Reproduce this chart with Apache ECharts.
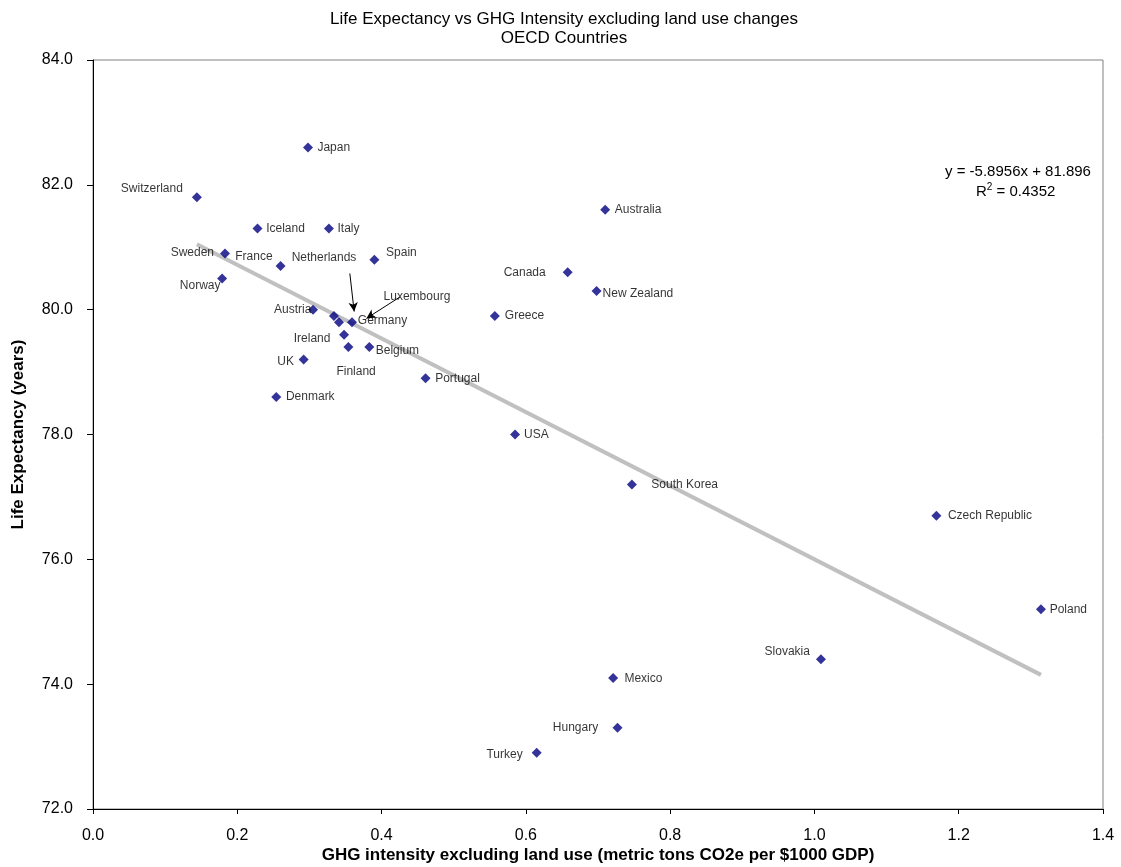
<!DOCTYPE html>
<html>
<head>
<meta charset="utf-8">
<title>Life Expectancy vs GHG Intensity</title>
<script src="https://cdn.jsdelivr.net/npm/echarts@6/dist/echarts.min.js"></script>
<style>
  html, body { margin: 0; padding: 0; background: #fff; }
  #chart { width: 1121px; height: 867px; }
</style>
</head>
<body>
<div id="chart"></div>
<script>
// OECD countries: GHG intensity (t CO2e per $1000 GDP) and life expectancy (years)
const countries = [
  'Japan', 'Switzerland', 'Iceland', 'Italy', 'Sweden', 'France', 'Spain', 'Norway',
  'Austria', 'Luxembourg', 'Netherlands', 'Germany', 'Ireland', 'Finland', 'Belgium',
  'UK', 'Portugal', 'Denmark', 'Greece', 'Australia', 'Canada', 'New Zealand', 'USA',
  'South Korea', 'Czech Republic', 'Poland', 'Slovakia', 'Mexico', 'Hungary', 'Turkey'
];
const ghgIntensity = [
  0.298, 0.144, 0.228, 0.327, 0.183, 0.260, 0.390, 0.179,
  0.305, 0.334, 0.341, 0.359, 0.348, 0.354, 0.383,
  0.292, 0.461, 0.254, 0.557, 0.710, 0.658, 0.698, 0.585,
  0.747, 1.169, 1.314, 1.009, 0.721, 0.727, 0.615
];
const lifeExpectancy = [
  82.6, 81.8, 81.3, 81.3, 80.9, 80.7, 80.8, 80.5,
  80.0, 79.9, 79.8, 79.8, 79.6, 79.4, 79.4,
  79.2, 78.9, 78.6, 79.9, 81.6, 80.6, 80.3, 78.0,
  77.2, 76.7, 75.2, 74.4, 74.1, 73.3, 72.9
];

// Linear trend fitted to the points
const trendSlope = -5.8956;
const trendIntercept = 81.896;
const trendR2 = 0.4352;

// Axis ranges and tick steps
const xMin = 0, xMax = 1.4, xStep = 0.2;
const yMin = 72, yMax = 84, yStep = 2;

// Callout arrows for crowded labels: [from, to] in data units
const arrowNetherlands = [[0.356, 80.58], [0.362, 79.97]];
const arrowLuxembourg = [[0.425, 80.20], [0.379, 79.86]];

const FONT = "'Liberation Sans', Arial, sans-serif";

// Label placement per country: [side, dx, dy]
const labelPlace = {
  'Japan': ['right', 4.4, 0],
  'Switzerland': ['left', -9, -8.6],
  'Iceland': ['right', 3.7, 0],
  'Italy': ['right', 3.6, 0],
  'Sweden': ['left', -6, -1],
  'France': ['left', -3, -9],
  'Spain': ['right', 6.7, -6.6],
  'Norway': ['left', 3.4, 7.4],
  'Austria': ['left', 3.4, 0],
  'Luxembourg': ['inside', 83, -19.4],
  'Netherlands': ['inside', -15, -64.6],
  'Germany': ['right', 0.8, -1],
  'Ireland': ['left', -8.6, 4.4],
  'Finland': ['inside', 7.7, 24.7],
  'Belgium': ['right', 1.4, 4],
  'UK': ['left', -4.7, 1.7],
  'Portugal': ['right', 4.6, 0],
  'Denmark': ['right', 4.7, 0],
  'Greece': ['right', 5, 0],
  'Australia': ['right', 4.5, 0],
  'Canada': ['left', -17, 0],
  'New Zealand': ['right', 1, 3],
  'USA': ['right', 4, 0],
  'South Korea': ['right', 14.4, 0],
  'Czech Republic': ['right', 6.6, 0],
  'Poland': ['right', 3.7, 0],
  'Slovakia': ['left', -6, -8],
  'Mexico': ['right', 6.3, 0.7],
  'Hungary': ['left', -14.3, 0],
  'Turkey': ['left', -9, 1.7]
};

const points = countries.map((name, i) => {
  const p = labelPlace[name] || ['right', 4, 0];
  return {
    name: name,
    value: [ghgIntensity[i], lifeExpectancy[i]],
    label: { position: p[0] }
  };
});

// Trend line spans the range of the observed x values
const xLo = Math.min(...ghgIntensity);
const xHi = Math.max(...ghgIntensity);
const trendData = [
  [xLo, trendSlope * xLo + trendIntercept],
  [xHi, trendSlope * xHi + trendIntercept]
];

const chart = echarts.init(document.getElementById('chart'), null, { renderer: 'canvas' });

chart.setOption({
  backgroundColor: '#ffffff',
  animation: false,
  textStyle: { fontFamily: FONT },
  title: {
    text: 'Life Expectancy vs GHG Intensity excluding land use changes\nOECD Countries',
    left: 564,
    textAlign: 'center',
    top: 10,
    padding: 0,
    textStyle: {
      fontFamily: FONT, fontSize: 17, fontWeight: 'normal', color: '#000', lineHeight: 19
    }
  },
  grid: {
    left: 93, right: 18, top: 60, bottom: 58,
    outerBoundsMode: 'none',
    containLabel: false,
    show: true, borderColor: '#808080', borderWidth: 1, backgroundColor: '#ffffff'
  },
  xAxis: {
    type: 'value',
    min: xMin, max: xMax, interval: xStep,
    name: 'GHG intensity excluding land use (metric tons CO2e per $1000 GDP)',
    nameLocation: 'middle',
    nameGap: 38,
    nameMoveOverlap: false,
    nameTextStyle: { fontFamily: FONT, fontSize: 17, fontWeight: 'bold', color: '#000' },
    axisLine: { show: true, onZero: false, lineStyle: { color: '#000', width: 1 } },
    axisTick: { show: true, inside: false, length: 5, lineStyle: { color: '#000' } },
    axisLabel: {
      margin: 19, fontFamily: FONT, fontSize: 16, color: '#000',
      formatter: v => v.toFixed(1)
    },
    splitLine: { show: false }
  },
  yAxis: {
    type: 'value',
    min: yMin, max: yMax, interval: yStep,
    name: 'Life Expectancy (years)',
    nameLocation: 'middle',
    nameGap: 66,
    nameMoveOverlap: false,
    nameTextStyle: { fontFamily: FONT, fontSize: 17, fontWeight: 'bold', color: '#000' },
    axisLine: { show: true, onZero: false, lineStyle: { color: '#000', width: 1 } },
    axisTick: { show: true, inside: false, length: 6, lineStyle: { color: '#000' } },
    axisLabel: {
      margin: 20, fontFamily: FONT, fontSize: 16, color: '#000',
      formatter: v => v.toFixed(1)
    },
    splitLine: { show: false }
  },
  series: [
    {
      name: 'Trend',
      type: 'line',
      data: trendData,
      showSymbol: false,
      symbol: 'none',
      lineStyle: { color: '#c0c0c0', width: 4 },
      z: 1,
      silent: true
    },
    {
      name: 'Countries',
      type: 'scatter',
      data: points,
      symbol: 'diamond',
      symbolSize: 10,
      itemStyle: { color: '#000080' },
      z: 3,
      label: {
        show: true,
        formatter: '{b}',
        distance: 0,
        fontFamily: FONT,
        fontSize: 12,
        color: '#000'
      },
      labelLayout: function (params) {
        const p = labelPlace[countries[params.dataIndex]] || ['right', 4, 0];
        return { dx: p[1], dy: p[2], hideOverlap: false };
      },
      markLine: {
        silent: true,
        symbol: ['none', 'arrow'],
        symbolSize: [7, 9],
        label: { show: false },
        lineStyle: { color: '#000', width: 1, type: 'solid' },
        data: [
          [{ coord: arrowNetherlands[0] }, { coord: arrowNetherlands[1] }],
          [{ coord: arrowLuxembourg[0] }, { coord: arrowLuxembourg[1] }]
        ]
      }
    }
  ],
  graphic: [
    {
      type: 'text',
      left: 945, top: 164,
      style: {
        text: 'y = ' + trendSlope.toFixed(4) + 'x + ' + trendIntercept.toFixed(3),
        font: '15px ' + FONT,
        fill: '#000'
      }
    },
    {
      type: 'text',
      left: 976, top: 182,
      style: {
        text: '{n|R}{s|2}{n| = ' + trendR2.toFixed(4) + '}',
        rich: {
          n: { font: '15px ' + FONT, fill: '#000', verticalAlign: 'bottom' },
          s: { font: '10px ' + FONT, fill: '#000', verticalAlign: 'top', padding: [0, 0, 7, 0] }
        }
      }
    }
  ]
});
</script>
</body>
</html>
